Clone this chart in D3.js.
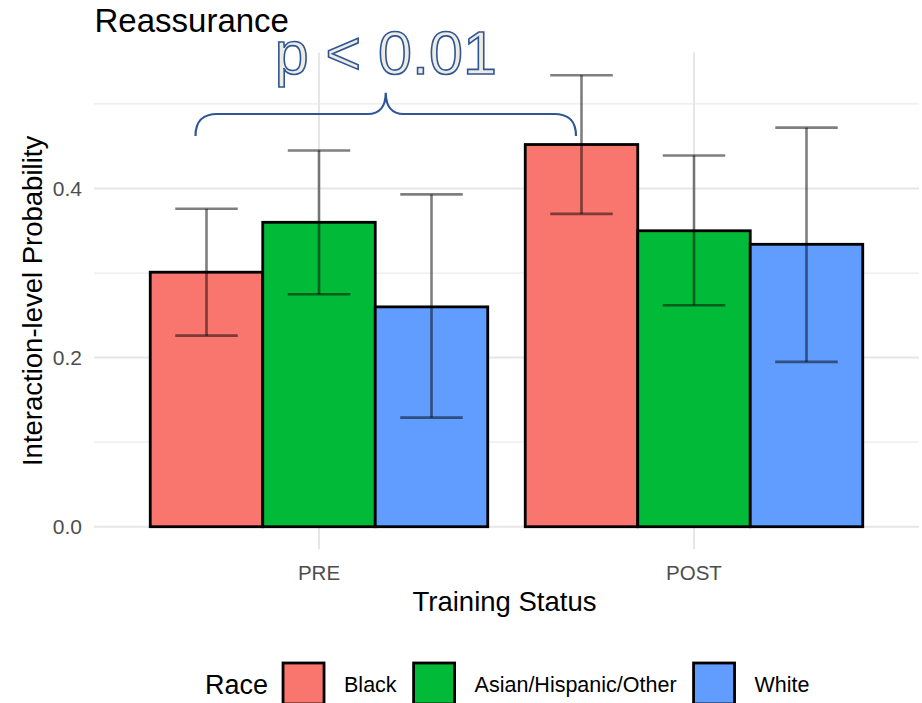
<!DOCTYPE html>
<html>
<head>
<meta charset="utf-8">
<script src="https://cdn.jsdelivr.net/npm/d3@7/dist/d3.min.js"></script>
<style>
  html, body { margin: 0; padding: 0; background: #ffffff; }
  svg { display: block; font-family: "Liberation Sans", Arial, Helvetica, sans-serif; }
</style>
</head>
<body>
<svg id="chart" width="922" height="703"></svg>
<script>
// ---- data ----
const groups = ["PRE", "POST"];
const races = ["Black", "Asian/Hispanic/Other", "White"];
const colors = ["#F8766D", "#00BA38", "#619CFF"];
const valuesPRE = [0.301, 0.360, 0.260];
const valuesPOST = [0.452, 0.350, 0.334];
const lowerPRE = [0.226, 0.275, 0.129];
const lowerPOST = [0.370, 0.262, 0.195];
const upperPRE = [0.376, 0.445, 0.393];
const upperPOST = [0.534, 0.439, 0.472];
const yTicks = [0.0, 0.2, 0.4];
const yMinor = [0.1, 0.3, 0.5];
const titleText = "Reassurance";
const annotationText = "p < 0.01";

const rows = [];
groups.forEach((g, gi) => {
  const v = gi === 0 ? valuesPRE : valuesPOST;
  const lo = gi === 0 ? lowerPRE : lowerPOST;
  const hi = gi === 0 ? upperPRE : upperPOST;
  races.forEach((r, ri) => rows.push({group: g, race: r, value: v[ri], lower: lo[ri], upper: hi[ri]}));
});

// ---- layout ----
const svg = d3.select("#chart");
const panel = {left: 94, right: 919, top: 52.6, bottom: 549.3};

const ymax = d3.max(rows, d => d.upper);
const pad = ymax * 0.05;
const y = d3.scaleLinear().domain([-pad, ymax + pad]).range([panel.bottom, panel.top]);

const x = d3.scaleBand().domain(groups).range([panel.left, panel.right])
  .paddingInner(0.1).paddingOuter(0.15);
const xSub = d3.scaleBand().domain(races).range([0, x.bandwidth()]);
const color = d3.scaleOrdinal().domain(races).range(colors);

// ---- grid ----
const grid = svg.append("g");
grid.selectAll("line.minor").data(yMinor).join("line")
  .attr("x1", panel.left).attr("x2", panel.right)
  .attr("y1", d => y(d)).attr("y2", d => y(d))
  .attr("stroke", "#ebebeb").attr("stroke-width", 1.3);
grid.selectAll("line.major").data(yTicks).join("line")
  .attr("x1", panel.left).attr("x2", panel.right)
  .attr("y1", d => y(d)).attr("y2", d => y(d))
  .attr("stroke", "#e6e6e6").attr("stroke-width", 2);
grid.selectAll("line.vx").data(groups).join("line")
  .attr("x1", d => x(d) + x.bandwidth() / 2).attr("x2", d => x(d) + x.bandwidth() / 2)
  .attr("y1", panel.top).attr("y2", panel.bottom)
  .attr("stroke", "#e6e6e6").attr("stroke-width", 2);

// ---- bars ----
svg.append("g").selectAll("rect").data(rows).join("rect")
  .attr("x", d => x(d.group) + xSub(d.race))
  .attr("width", xSub.bandwidth())
  .attr("y", d => y(d.value))
  .attr("height", d => y(0) - y(d.value))
  .attr("fill", d => color(d.race))
  .attr("stroke", "#000").attr("stroke-width", 2.8);

// ---- error bars ----
const half = xSub.bandwidth() * (0.5 / 0.9) / 2;
const eb = svg.append("g").attr("stroke", "#000").attr("stroke-opacity", 0.5).attr("stroke-width", 2.6);
const cx = d => x(d.group) + xSub(d.race) + xSub.bandwidth() / 2;
eb.selectAll("line.v").data(rows).join("line")
  .attr("x1", cx).attr("x2", cx).attr("y1", d => y(d.lower)).attr("y2", d => y(d.upper));
eb.selectAll("line.t").data(rows).join("line")
  .attr("x1", d => cx(d) - half).attr("x2", d => cx(d) + half)
  .attr("y1", d => y(d.upper)).attr("y2", d => y(d.upper));
eb.selectAll("line.b").data(rows).join("line")
  .attr("x1", d => cx(d) - half).attr("x2", d => cx(d) + half)
  .attr("y1", d => y(d.lower)).attr("y2", d => y(d.lower));

// ---- axes text ----
svg.append("g").selectAll("text").data(yTicks).join("text")
  .attr("x", 82).attr("y", d => y(d)).attr("dy", "0.36em")
  .attr("text-anchor", "end").attr("font-size", 21).attr("fill", "#4d4d4d")
  .text(d => d3.format(".1f")(d));

svg.append("g").selectAll("text").data(groups).join("text")
  .attr("x", d => x(d) + x.bandwidth() / 2).attr("y", 580)
  .attr("text-anchor", "middle").attr("font-size", 20.5).attr("fill", "#4d4d4d")
  .text(d => d);

svg.append("text").attr("x", (panel.left + panel.right) / 2 - 2).attr("y", 611)
  .attr("text-anchor", "middle").attr("font-size", 27.5).attr("fill", "#000")
  .text("Training Status");

svg.append("text")
  .attr("transform", `translate(42,${(panel.top + panel.bottom) / 2}) rotate(-90)`)
  .attr("text-anchor", "middle").attr("font-size", 27.5).attr("fill", "#000")
  .text("Interaction-level Probability");

svg.append("text").attr("x", 94.5).attr("y", 32)
  .attr("font-size", 33).attr("fill", "#000").text(titleText);

// ---- brace annotation ----
const leftC = x("PRE") + xSub("Black") + xSub.bandwidth() / 2 - 11;
const rightC = x("POST") + xSub("Black") + xSub.bandwidth() / 2 - 5.5;
const midC = (leftC + rightC) / 2;
const yEnd = 136, yMid = 114, yPeak = 92.7;
const bp = d3.path();
bp.moveTo(leftC, yEnd);
bp.bezierCurveTo(leftC, yMid + 6, leftC + 8, yMid, leftC + 22, yMid);
bp.lineTo(midC - 18, yMid);
bp.bezierCurveTo(midC - 6, yMid, midC, yMid - 8, midC, yPeak);
bp.bezierCurveTo(midC, yMid - 8, midC + 6, yMid, midC + 18, yMid);
bp.lineTo(rightC - 22, yMid);
bp.bezierCurveTo(rightC - 8, yMid, rightC, yMid + 6, rightC, yEnd);
svg.append("path").attr("d", bp.toString())
  .attr("fill", "none").attr("stroke", "#2F5597").attr("stroke-width", 2.2);

svg.append("text").attr("x", midC).attr("y", 74)
  .attr("text-anchor", "middle").attr("font-size", 61)
  .attr("fill", "#EEECE1").attr("stroke", "#2F5597").attr("stroke-width", 1.6)
  .text(annotationText);

// ---- legend ----
const lg = svg.append("g");
const legY = 684;
let cur = 205;
const raceT = lg.append("text").attr("x", cur).attr("y", legY).attr("dy", "0.36em")
  .attr("font-size", 27).attr("fill", "#000").text("Race");
cur += raceT.node().getComputedTextLength() + 15;
races.forEach((r, i) => {
  lg.append("rect").attr("x", cur).attr("y", 663).attr("width", 41).attr("height", 41)
    .attr("fill", color(r)).attr("stroke", "#000").attr("stroke-width", 2.8);
  cur += 41 + 20;
  const t = lg.append("text").attr("x", cur).attr("y", legY).attr("dy", "0.36em")
    .attr("font-size", 21.5).attr("fill", "#000").text(r);
  cur += t.node().getComputedTextLength() + 17;
});
</script>
</body>
</html>
